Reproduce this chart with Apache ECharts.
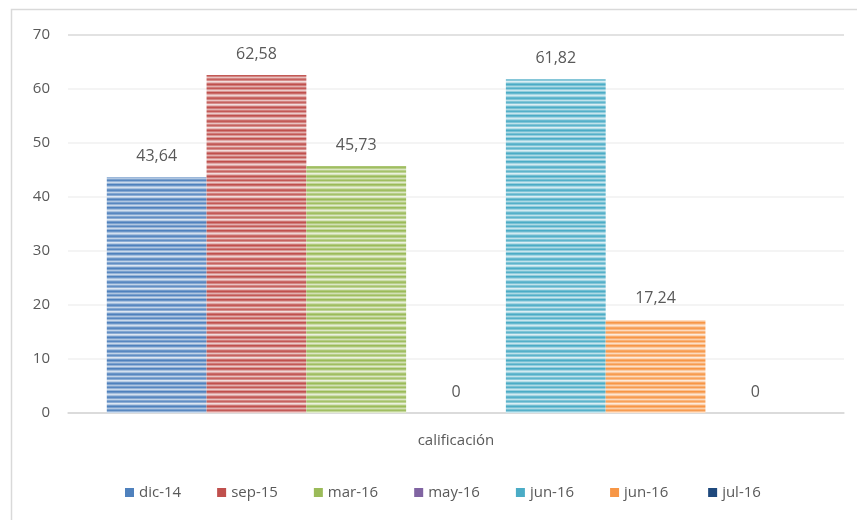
<!DOCTYPE html>
<html>
<head>
<meta charset="utf-8">
<script src="https://cdn.jsdelivr.net/npm/echarts@6/dist/echarts.min.js"></script>
<style>
  html, body { margin: 0; padding: 0; background: #fff; }
  #chart { width: 857px; height: 520px; }
</style>
</head>
<body>
<div id="chart"></div>
<script>
// Single category, one bar per period
const categories = ['calificación'];
const seriesNames = ['dic-14', 'sep-15', 'mar-16', 'may-16', 'jun-16', 'jun-16 ', 'jul-16'];
const seriesValues = [43.64, 62.58, 45.73, 0, 61.82, 17.24, 0];
const yTicks = [0, 10, 20, 30, 40, 50, 60, 70];

const palette = ['#4f81bd', '#c0504d', '#9bbb59', '#8064a2', '#4bacc6', '#f79646', '#1f497d'];
const FONT = '"Open Sans", sans-serif';

// Horizontal stripe texture: rows of the base colour mixed with white
function stripeTexture(hex) {
  const r = parseInt(hex.slice(1, 3), 16), g = parseInt(hex.slice(3, 5), 16), b = parseInt(hex.slice(5, 7), 16);
  const mix = [0.0, 0.15, 0.5, 0.75, 0.5, 0.15, 0.05, 0.3, 0.65, 0.3, 0.1, 0.35, 0.8, 0.6, 0.2, 0.0, 0.25, 0.55, 0.25, 0.05, 0.4, 0.7, 0.4];
  const c = document.createElement('canvas');
  c.width = 4; c.height = mix.length;
  const ctx = c.getContext('2d');
  mix.forEach((m, i) => {
    const rr = Math.round(r + (255 - r) * m), gg = Math.round(g + (255 - g) * m), bb = Math.round(b + (255 - b) * m);
    ctx.fillStyle = `rgb(${rr},${gg},${bb})`;
    ctx.fillRect(0, i, 4, 1);
  });
  return { image: c, repeat: 'repeat' };
}

const fmt = v => String(v).replace('.', ',');

const chart = echarts.init(document.getElementById('chart'), null, { renderer: 'canvas' });
chart.setOption({
  animation: false,
  backgroundColor: '#ffffff',
  graphic: [{
    type: 'rect',
    shape: { x: 11.5, y: 9.5, width: 900, height: 600 },
    style: { fill: 'none', stroke: '#d9d9d9', lineWidth: 1.5 },
    silent: true
  }],
  grid: { left: 68, right: 13, top: 35, bottom: 107, containLabel: false },
  legend: {
    bottom: 15,
    left: 120,
    itemWidth: 9,
    itemHeight: 9,
    itemGap: 36,
    icon: 'rect',
    textStyle: { color: '#595959', fontSize: 15, fontFamily: FONT },
    data: seriesNames.map((n, i) => ({ name: n, itemStyle: { color: palette[i] } }))
  },
  xAxis: {
    type: 'category',
    data: categories,
    axisLine: { lineStyle: { color: '#d9d9d9', width: 1.5 } },
    axisTick: { show: false },
    axisLabel: { color: '#595959', fontSize: 15, fontFamily: FONT, margin: 20 }
  },
  yAxis: {
    type: 'value',
    min: yTicks[0],
    max: yTicks[yTicks.length - 1],
    interval: 10,
    axisLine: { show: false },
    axisTick: { show: false },
    axisLabel: { color: '#595959', fontSize: 15, fontFamily: FONT, margin: 18 },
    splitLine: {
      lineStyle: {
        color: ['#d9d9d9', '#f0f0f0', '#f0f0f0', '#f0f0f0', '#f0f0f0', '#f0f0f0', '#f0f0f0', '#d9d9d9'],
        width: 1.5
      }
    }
  },
  series: seriesValues.map((v, i) => ({
    type: 'bar',
    name: seriesNames[i],
    data: [v],
    barGap: '0%',
    barCategoryGap: '10%',
    itemStyle: { color: stripeTexture(palette[i]) },
    label: {
      show: true,
      position: 'top',
      distance: 13,
      color: '#595959',
      fontSize: 16,
      fontFamily: FONT,
      formatter: p => fmt(p.value)
    }
  }))
});
</script>
</body>
</html>
